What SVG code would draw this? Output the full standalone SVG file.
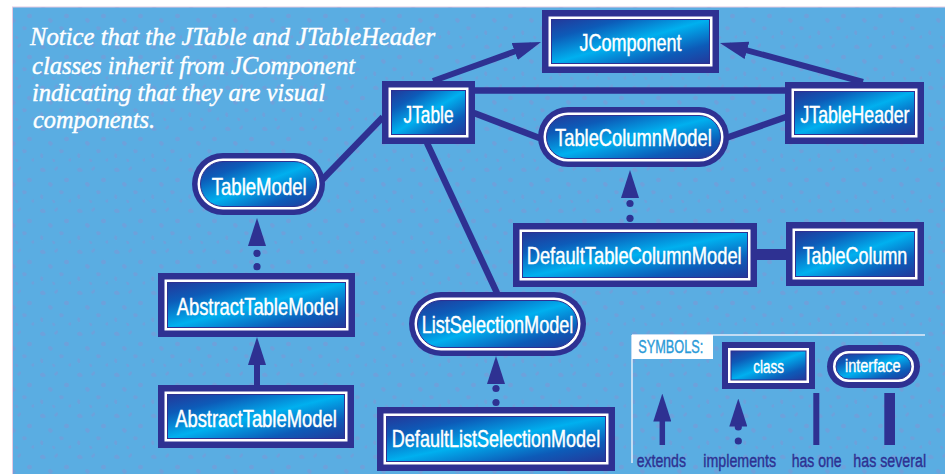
<svg xmlns="http://www.w3.org/2000/svg" width="945" height="474" viewBox="0 0 945 474">
  <defs>
    <linearGradient id="face" x1="0" y1="0" x2="1" y2="1">
      <stop offset="0" stop-color="#24389a"/>
      <stop offset="0.22" stop-color="#0d5bb8"/>
      <stop offset="0.5" stop-color="#00b0ef"/>
      <stop offset="0.78" stop-color="#0d5bb8"/>
      <stop offset="1" stop-color="#24389a"/>
    </linearGradient>
    <pattern id="speck" width="37" height="41" patternUnits="userSpaceOnUse">
      <g fill="#8a8ccf" opacity="0.38">
        <path d="M3,5 q3,-3 5,0 t-2,3 q-3,0 -3,-3z"/>
        <path d="M20,2 q2,2 0,4 t-3,-1 z"/>
        <path d="M28,14 q4,-1 4,2 t-4,2 q-2,-2 0,-4z"/>
        <path d="M11,19 q2,-2 4,0 t-1,4 q-3,-1 -3,-4z"/>
        <path d="M4,30 q3,1 2,4 t-3,-1z"/>
        <path d="M22,27 q3,-2 5,1 q-1,3 -4,2 z"/>
        <path d="M33,35 q2,1 1,3 t-3,-1z"/>
        <path d="M15,36 q2,-1 3,1 t-2,2z"/>
      </g>
    </pattern>
    <!-- filled triangular head for "extends" / "implements" arrows -->
    <marker id="head" viewBox="0 0 28 18" refX="18" refY="9" markerWidth="28" markerHeight="18" markerUnits="userSpaceOnUse" orient="auto">
      <path d="M0,0 L28,9 L0,18 z" fill="#2e3192"/>
    </marker>
    <style>
      .frame { fill: #2e3192; }
      .gap { fill: #ffffff; }
      .face { fill: url(#face); stroke: #2e3192; stroke-width: 1; }
      .name { font-family: "Liberation Sans Narrow", "Liberation Sans", Arial, sans-serif; font-size: 24px; fill: #ffffff; stroke: #ffffff; stroke-width: 0.45; text-anchor: middle; }
      .small { font-size: 18px; stroke-width: 0.35; }
      .note { font-family: "Liberation Serif", "Times New Roman", serif; font-style: italic; font-size: 25px; fill: #ffffff; stroke: #ffffff; stroke-width: 0.45; }
      .legend { font-family: "Liberation Sans Narrow", "Liberation Sans", Arial, sans-serif; font-size: 18px; fill: #2e3192; stroke: #2e3192; stroke-width: 0.4; text-anchor: middle; }
      .assoc { stroke: #2e3192; stroke-width: 6.5; fill: none; }
      .many { stroke: #2e3192; stroke-width: 11; fill: none; }
      .ext { stroke: #2e3192; stroke-width: 6; fill: none; marker-end: url(#head); }
      .stub { stroke: #2e3192; stroke-width: 4; fill: none; marker-end: url(#head); }
      .dot { fill: #2e3192; }
    </style>
  </defs>

  <!-- page background -->
  <rect x="0" y="0" width="945" height="474" fill="#ffffff"/>
  <rect x="12.5" y="7" width="933" height="468" fill="#5aade2" stroke="#e4c9e2" stroke-width="1"/>
  <rect x="13" y="7.5" width="932" height="467" fill="url(#speck)"/>

  <!-- explanatory note -->
  <g id="note">
    <text class="note" x="30" y="45" textLength="405" lengthAdjust="spacingAndGlyphs">Notice that the JTable and JTableHeader</text>
    <text class="note" x="32" y="73.5" textLength="323" lengthAdjust="spacingAndGlyphs">classes inherit from JComponent</text>
    <text class="note" x="32" y="100.5" textLength="293" lengthAdjust="spacingAndGlyphs">indicating that they are visual</text>
    <text class="note" x="33" y="128.3" textLength="122" lengthAdjust="spacingAndGlyphs">components.</text>
  </g>

  <!-- connectors -->
  <g id="connectors">
    <!-- has one -->
    <line class="assoc" x1="475" y1="90.5" x2="785" y2="90.5"/>
    <line class="assoc" x1="474" y1="113" x2="542" y2="139"/>
    <line class="assoc" x1="726" y1="138" x2="786" y2="117"/>
    <line class="assoc" x1="383" y1="117" x2="320" y2="182"/>
    <line class="assoc" x1="427" y1="143" x2="497" y2="293"/>
    <!-- has several -->
    <line class="many" x1="756" y1="254.5" x2="787" y2="254.5"/>
    <!-- extends -->
    <line class="ext" x1="433" y1="81" x2="531.6" y2="45.4"/>
    <line class="ext" x1="863" y1="82" x2="729.6" y2="45.6"/>
    <line class="ext" x1="257" y1="386" x2="257" y2="347"/>
    <!-- implements -->
    <line class="stub" x1="257" y1="244" x2="257" y2="228"/>
    <circle class="dot" cx="257" cy="253.3" r="3.6"/>
    <circle class="dot" cx="257" cy="266.7" r="3.6"/>
    <line class="stub" x1="630" y1="196" x2="630" y2="180"/>
    <circle class="dot" cx="630" cy="203.5" r="3.6"/>
    <circle class="dot" cx="630" cy="218.3" r="3.6"/>
    <line class="stub" x1="496" y1="381" x2="496" y2="366"/>
    <circle class="dot" cx="496" cy="388.5" r="3.6"/>
    <circle class="dot" cx="496" cy="402.5" r="3.6"/>
  </g>

  <!-- classes and interfaces -->
  <g id="jcomponent">
    <rect class="frame" x="542" y="10" width="177" height="63"/>
    <rect class="gap" x="548.5" y="16.5" width="164" height="50"/>
    <rect class="face" x="551.5" y="19.5" width="158" height="44"/>
    <text class="name" x="630.5" y="50.7" textLength="102" lengthAdjust="spacingAndGlyphs">JComponent</text>
  </g>
  <g id="jtable">
    <rect class="frame" x="382" y="81" width="93" height="63"/>
    <rect class="gap" x="388.5" y="87.5" width="80" height="50"/>
    <rect class="face" x="391.5" y="90.5" width="74" height="44"/>
    <text class="name" x="428.5" y="122.5" textLength="50" lengthAdjust="spacingAndGlyphs">JTable</text>
  </g>
  <g id="jtableheader">
    <rect class="frame" x="785" y="82" width="139" height="62"/>
    <rect class="gap" x="791.5" y="88.5" width="126" height="49"/>
    <rect class="face" x="794.5" y="91.5" width="120" height="43"/>
    <text class="name" x="855" y="123.3" textLength="109" lengthAdjust="spacingAndGlyphs">JTableHeader</text>
  </g>
  <g id="tablecolumnmodel">
    <rect class="frame" x="538" y="107" width="191" height="60" rx="30"/>
    <rect class="gap" x="543.5" y="112.5" width="180" height="49" rx="24.5"/>
    <rect class="face" x="546.5" y="115.5" width="174" height="43" rx="21.5"/>
    <text class="name" x="633.4" y="146" textLength="156.7" lengthAdjust="spacingAndGlyphs">TableColumnModel</text>
  </g>
  <g id="tablemodel">
    <rect class="frame" x="192" y="153" width="133" height="62" rx="31"/>
    <rect class="gap" x="197.5" y="158.5" width="122" height="51" rx="25.5"/>
    <rect class="face" x="200.5" y="161.5" width="116" height="45" rx="22.5"/>
    <text class="name" x="259.2" y="195" textLength="95" lengthAdjust="spacingAndGlyphs">TableModel</text>
  </g>
  <g id="abstracttablemodel">
    <rect class="frame" x="158" y="273" width="197" height="64"/>
    <rect class="gap" x="164.5" y="279.5" width="184" height="51"/>
    <rect class="face" x="167.5" y="282.5" width="178" height="45"/>
    <text class="name" x="257.5" y="315" textLength="161.7" lengthAdjust="spacingAndGlyphs">AbstractTableModel</text>
  </g>
  <g id="abstracttablemodel-sub">
    <rect class="frame" x="158" y="385" width="196" height="63"/>
    <rect class="gap" x="164.5" y="391.5" width="183" height="50"/>
    <rect class="face" x="167.5" y="394.5" width="177" height="44"/>
    <text class="name" x="256" y="426.7" textLength="161.7" lengthAdjust="spacingAndGlyphs">AbstractTableModel</text>
  </g>
  <g id="listselectionmodel">
    <rect class="frame" x="409" y="292" width="177" height="64" rx="32"/>
    <rect class="gap" x="414.5" y="297.5" width="166" height="53" rx="26.5"/>
    <rect class="face" x="417.5" y="300.5" width="160" height="47" rx="23.5"/>
    <text class="name" x="497.5" y="332.7" textLength="151.7" lengthAdjust="spacingAndGlyphs">ListSelectionModel</text>
  </g>
  <g id="defaultlistselectionmodel">
    <rect class="frame" x="377" y="407" width="238" height="64"/>
    <rect class="gap" x="383.5" y="413.5" width="225" height="51"/>
    <rect class="face" x="386.5" y="416.5" width="219" height="45"/>
    <text class="name" x="496" y="447" textLength="208.3" lengthAdjust="spacingAndGlyphs">DefaultListSelectionModel</text>
  </g>
  <g id="defaulttablecolumnmodel">
    <rect class="frame" x="513" y="223" width="244" height="64"/>
    <rect class="gap" x="519.5" y="229.5" width="231" height="51"/>
    <rect class="face" x="522.5" y="232.5" width="225" height="45"/>
    <text class="name" x="634.2" y="264" textLength="215" lengthAdjust="spacingAndGlyphs">DefaultTableColumnModel</text>
  </g>
  <g id="tablecolumn">
    <rect class="frame" x="786" y="222" width="138" height="64"/>
    <rect class="gap" x="792.5" y="228.5" width="125" height="51"/>
    <rect class="face" x="795.5" y="231.5" width="119" height="45"/>
    <text class="name" x="855" y="264" textLength="104.7" lengthAdjust="spacingAndGlyphs">TableColumn</text>
  </g>

  <!-- symbol key -->
  <g id="legend">
    <line x1="632" y1="335" x2="925" y2="335" stroke="#e6edf8" stroke-width="1.5"/>
    <line x1="632" y1="335" x2="632" y2="463" stroke="#e6edf8" stroke-width="1.5"/>
    <rect x="632" y="335" width="81" height="24" fill="#ffffff"/>
    <text x="638.3" y="353.3" font-family="'Liberation Sans Narrow', 'Liberation Sans', Arial, sans-serif" font-size="19" fill="#2a9ad8" stroke="#2a9ad8" stroke-width="0.4" textLength="65" lengthAdjust="spacingAndGlyphs">SYMBOLS:</text>
    <g id="legend-class">
      <rect class="frame" x="722" y="342" width="93" height="47"/>
      <rect class="gap" x="728" y="348" width="81" height="35"/>
      <rect class="face" x="731" y="351" width="75" height="29"/>
      <text class="name small" x="768.7" y="373.3" textLength="30.7" lengthAdjust="spacingAndGlyphs">class</text>
    </g>
    <g id="legend-interface">
      <rect class="frame" x="827" y="345" width="93" height="43" rx="21.5"/>
      <rect class="gap" x="833" y="351" width="81" height="31" rx="15.5"/>
      <rect class="face" x="836" y="354" width="75" height="25" rx="12.5"/>
      <text class="name small" x="872.8" y="371.7" textLength="55.7" lengthAdjust="spacingAndGlyphs">interface</text>
    </g>
    <line class="ext" x1="662.3" y1="445" x2="662.3" y2="403.5" style="stroke-width:5.5"/>
    <line class="stub" x1="738.3" y1="419" x2="738.3" y2="408.5"/>
    <circle class="dot" cx="738.3" cy="427" r="3.6"/>
    <circle class="dot" cx="738.3" cy="441" r="3.6"/>
    <rect x="813.3" y="393" width="6" height="52" fill="#2e3192"/>
    <rect x="884.3" y="393" width="10.7" height="52" fill="#2e3192"/>
    <text class="legend" x="661.3" y="466.7" textLength="49.3" lengthAdjust="spacingAndGlyphs">extends</text>
    <text class="legend" x="739.7" y="466.7" textLength="72.7" lengthAdjust="spacingAndGlyphs">implements</text>
    <text class="legend" x="816.7" y="466.7" textLength="50" lengthAdjust="spacingAndGlyphs">has one</text>
    <text class="legend" x="889.7" y="466.7" textLength="72.7" lengthAdjust="spacingAndGlyphs">has several</text>
  </g>
</svg>
